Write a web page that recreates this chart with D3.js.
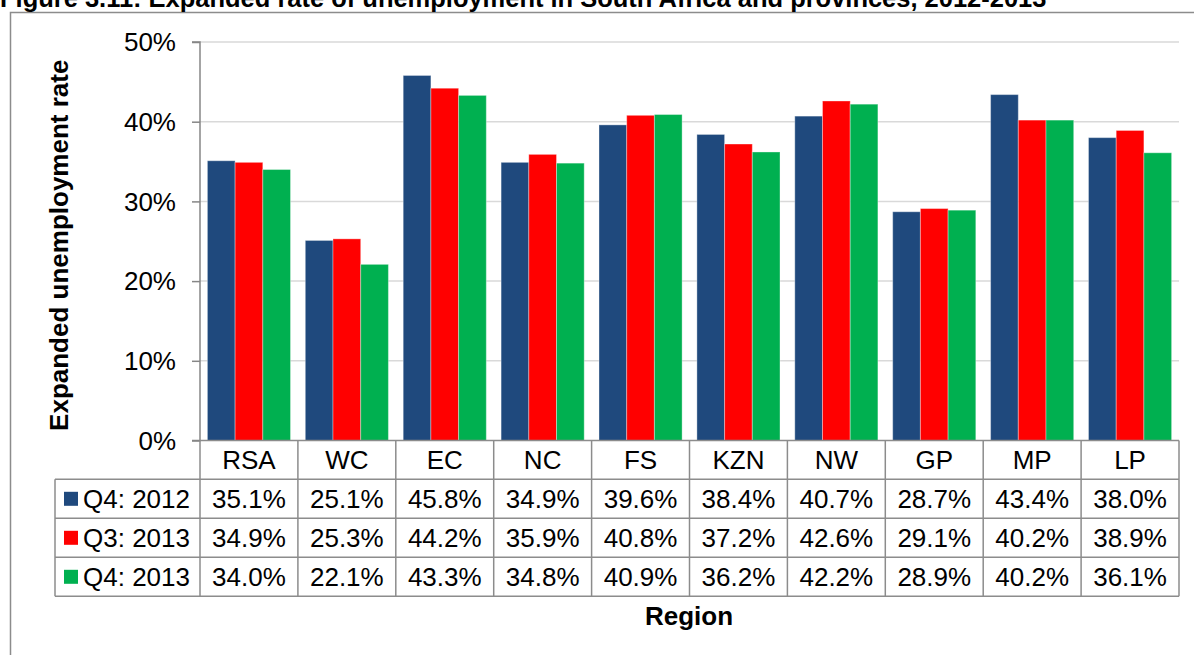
<!DOCTYPE html>
<html>
<head>
<meta charset="utf-8">
<script src="https://cdn.jsdelivr.net/npm/d3@7"></script>
<style>
  html, body { margin: 0; padding: 0; background: #fff; }
  svg { display: block; font-family: "Liberation Sans", Arial, sans-serif; }
</style>
</head>
<body>
<svg id="chart" width="1194" height="655"></svg>
<script>
const title = "Figure 3.11: Expanded rate of unemployment in South Africa and provinces, 2012-2013";
const categories = ["RSA", "WC", "EC", "NC", "FS", "KZN", "NW", "GP", "MP", "LP"];
const seriesNames = ["Q4: 2012", "Q3: 2013", "Q4: 2013"];
const q4_2012 = [35.1, 25.1, 45.8, 34.9, 39.6, 38.4, 40.7, 28.7, 43.4, 38.0];
const q3_2013 = [34.9, 25.3, 44.2, 35.9, 40.8, 37.2, 42.6, 29.1, 40.2, 38.9];
const q4_2013 = [34.0, 22.1, 43.3, 34.8, 40.9, 36.2, 42.2, 28.9, 40.2, 36.1];
const yTicks = [0, 10, 20, 30, 40, 50];
const yTitle = "Expanded unemployment rate";
const xTitle = "Region";
const colors = ["#1F497D", "#FF0000", "#00B050"];

const series = [q4_2012, q3_2013, q4_2013];
const svg = d3.select("#chart");

// outer border
svg.append("rect").attr("x", 10.5).attr("y", 12.5).attr("width", 1300).attr("height", 800)
  .attr("fill", "none").attr("stroke", "#8c8c8c").attr("stroke-width", 1.5);

// title (top cropped as in the source)
const t = svg.append("text").attr("x", 0).attr("y", 7)
  .attr("font-weight", "bold").attr("font-size", 20).attr("fill", "#000").text(title);
const tw = t.node().getComputedTextLength();
t.attr("font-size", 20 * 1047 / tw);

const pLeft = 200, pRight = 1179, pTop = 42, pBottom = 440.5;
const x = d3.scaleBand().domain(categories).range([pLeft, pRight]).paddingInner(0).paddingOuter(0);
const y = d3.scaleLinear().domain([0, 50]).range([pBottom, pTop]);
const xs = d3.scaleBand().domain(d3.range(series.length)).range([0, x.bandwidth()]).paddingInner(0).paddingOuter(0.267);

// gridlines
svg.append("g").selectAll("line").data(yTicks.filter(d => d > 0)).join("line")
  .attr("x1", pLeft).attr("x2", pRight).attr("y1", d => y(d)).attr("y2", d => y(d))
  .attr("stroke", "#d9d9d9").attr("stroke-width", 1.5);

// bars
const groups = svg.append("g").selectAll("g").data(categories).join("g")
  .attr("transform", d => `translate(${x(d)},0)`);
groups.selectAll("rect").data((d, i) => series.map((s, k) => ({k, v: s[i]}))).join("rect")
  .attr("x", d => xs(d.k)).attr("width", xs.bandwidth())
  .attr("y", d => y(d.v)).attr("height", d => y(0) - y(d.v))
  .attr("fill", d => colors[d.k])
  .attr("stroke", "#ffffff").attr("stroke-opacity", 0.35).attr("stroke-width", 1);

// y axis
const yAxis = d3.axisLeft(y).tickValues(yTicks).tickFormat(d => d + "%").tickSize(8).tickPadding(16);
const ya = svg.append("g").attr("transform", `translate(${pLeft},0)`).call(yAxis);
ya.select(".domain").attr("stroke", "#868686").attr("stroke-width", 1.5).attr("d", `M-8,${pTop}H0V${pBottom}H-8`);
ya.selectAll(".tick line").attr("stroke", "#868686").attr("stroke-width", 1.5);
ya.selectAll(".tick text").attr("font-size", 26).attr("fill", "#000")
  .attr("font-family", "Liberation Sans, Arial, sans-serif").attr("dy", "0.34em");

// y title
svg.append("text").attr("transform", `translate(68,${(pTop + pBottom) / 2 + 4}) rotate(-90)`)
  .attr("text-anchor", "middle").attr("font-weight", "bold").attr("font-size", 26).attr("fill", "#000")
  .text(yTitle);

// data table
const tableLeft = 55;
const rowTops = [pBottom, 479.3, 518.3, 557.3, 596.3];
const lineColor = "#8c8c8c";
const tbl = svg.append("g");
tbl.selectAll("text.cat").data(categories).join("text").attr("class", "cat")
  .attr("x", d => x(d) + x.bandwidth() / 2).attr("y", (rowTops[0] + rowTops[1]) / 2 + 9)
  .attr("text-anchor", "middle").attr("font-size", 26).attr("fill", "#000").text(d => d);
tbl.selectAll("line.v").data(d3.range(categories.length + 1)).join("line").attr("class", "v")
  .attr("x1", i => pLeft + i * x.bandwidth()).attr("x2", i => pLeft + i * x.bandwidth())
  .attr("y1", rowTops[0]).attr("y2", rowTops[4])
  .attr("stroke", lineColor).attr("stroke-width", 1.5);
tbl.append("line").attr("x1", tableLeft).attr("x2", tableLeft).attr("y1", rowTops[1]).attr("y2", rowTops[4])
  .attr("stroke", lineColor).attr("stroke-width", 1.5);
tbl.selectAll("line.h").data([1, 2, 3, 4]).join("line").attr("class", "h")
  .attr("x1", tableLeft).attr("x2", pRight).attr("y1", i => rowTops[i]).attr("y2", i => rowTops[i])
  .attr("stroke", lineColor).attr("stroke-width", 1.5);
tbl.append("line").attr("x1", pLeft).attr("x2", pRight).attr("y1", pBottom).attr("y2", pBottom)
  .attr("stroke", lineColor).attr("stroke-width", 1.5);

series.forEach((s, k) => {
  const r0 = rowTops[k + 1], r1 = rowTops[k + 2], cy = (r0 + r1) / 2;
  tbl.append("rect").attr("x", 64).attr("y", cy - 7).attr("width", 14).attr("height", 14).attr("fill", colors[k]);
  tbl.append("text").attr("x", 83).attr("y", cy + 9).attr("font-size", 26).attr("fill", "#000").text(seriesNames[k]);
  tbl.selectAll(null).data(s).join("text")
    .attr("x", (d, i) => x(categories[i]) + x.bandwidth() / 2).attr("y", cy + 9)
    .attr("text-anchor", "middle").attr("font-size", 26).attr("fill", "#000")
    .text(d => d.toFixed(1) + "%");
});

// x title
svg.append("text").attr("x", 689).attr("y", 625).attr("text-anchor", "middle")
  .attr("font-weight", "bold").attr("font-size", 26).attr("fill", "#000").text(xTitle);
</script>
</body>
</html>
